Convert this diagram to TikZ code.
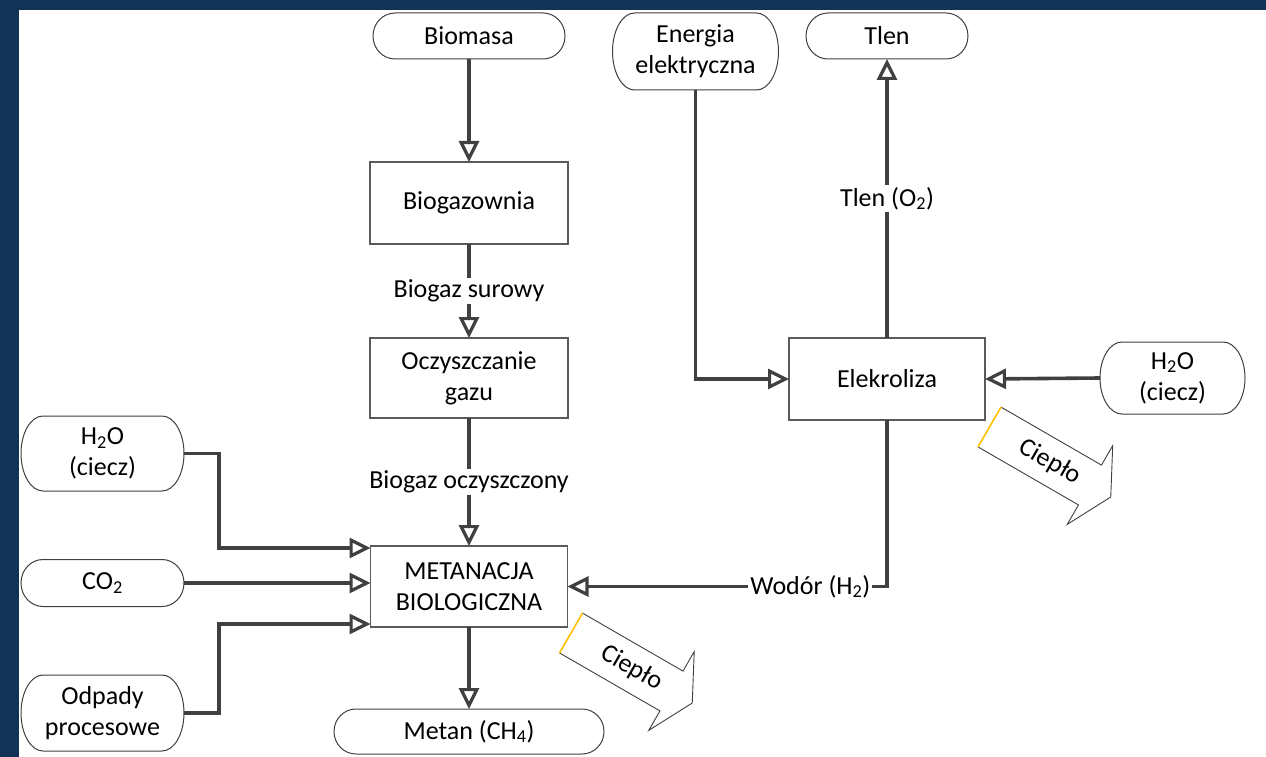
\documentclass[tikz,border=0pt]{standalone}
\usepackage{fontspec}
\setmainfont{Carlito}
\usetikzlibrary{arrows.meta,calc}

\definecolor{frameblue}{RGB}{18,50,86}
\definecolor{linegray}{RGB}{64,64,64}
\definecolor{boxgray}{RGB}{90,90,90}
\definecolor{heatedge}{RGB}{255,192,0}

% outline of a terminator (stadium with elliptical ends) around a named node
\newcommand\termoutline[1]{%
  \draw[termline] let \p1=(#1.north west), \p2=(#1.south east), \n1={(\y1-\y2)/2} in
    ([xshift=22pt]#1.north west) -- ([xshift=-22pt]#1.north east)
    arc[start angle=90, end angle=-90, x radius=22pt, y radius=\n1]
    -- ([xshift=22pt]#1.south west)
    arc[start angle=270, end angle=90, x radius=22pt, y radius=\n1] -- cycle;}

% block arrow for released heat, drawn along its own axis
\newcommand\heatarrow[3]{%
  \begin{scope}[shift={#1}, rotate=-30]
    \draw[heatline] (0,-23) -- (116,-23) -- (116,-45.5) -- (140,0) -- (116,45.5) -- (116,23) -- (0,23);
    \draw[heattail] (0,-23) -- (0,23);
    \node[rotate=-30] (#2) at (70,0) {#3};
  \end{scope}}

\tikzset{
  every node/.style={font=\fontsize{26}{31}\selectfont, text=black},
  procbox/.style={draw=boxgray, line width=1.2pt, fill=white, align=center, inner sep=0pt, outer sep=0pt},
  termnode/.style={align=center, inner sep=0pt, outer sep=0pt},
  termline/.style={draw=linegray, line width=1pt},
  conn/.style={draw=linegray, line width=3.6pt,
    -{Triangle[open, length=21pt, width=20pt, line width=3.2pt]}},
  lbl/.style={fill=white, inner sep=2pt},
  heatline/.style={draw=linegray, line width=0.9pt, fill=white, line join=miter},
  heattail/.style={draw=heatedge, line width=1.6pt},
}

\begin{document}
\begin{tikzpicture}[x=1pt, y=-1pt]
  % page frame
  \fill[frameblue] (0,0) rectangle (1266,757);
  \fill[white] (19,10) rectangle (1266,757);
  \useasboundingbox (0,0) rectangle (1266,757);

  % terminators
  \node[termnode, minimum width=192pt, minimum height=46pt] (biomasa) at (469,36) {Biomasa};
  \node[termnode, minimum width=166pt, minimum height=77pt] (energia) at (695.5,51.5) {Energia\\elektryczna};
  \node[termnode, minimum width=162pt, minimum height=46pt] (tlen) at (887,36) {Tlen};
  \node[termnode, minimum width=145pt, minimum height=72pt] (wodaR) at (1172.5,378) {H\textsubscript{2}O\\(ciecz)};
  \node[termnode, minimum width=163pt, minimum height=75pt] (wodaL) at (102.5,453.5) {H\textsubscript{2}O\\(ciecz)};
  \node[termnode, minimum width=163pt, minimum height=47pt] (co2) at (102.5,583) {CO\textsubscript{2}};
  \node[termnode, minimum width=163pt, minimum height=76pt] (odpady) at (102.5,713) {Odpady\\procesowe};
  \node[termnode, minimum width=270pt, minimum height=45pt] (metan) at (469,731.5) {Metan (CH\textsubscript{4})};
  \foreach \t in {biomasa,energia,tlen,wodaR,wodaL,co2,odpady,metan} {\termoutline{\t}}

  % process boxes
  \node[procbox, minimum width=198pt, minimum height=82pt] (biogazownia) at (469,203) {Biogazownia};
  \node[procbox, minimum width=198pt, minimum height=80pt] (oczysz) at (469,378) {Oczyszczanie\\gazu};
  \node[procbox, minimum width=197pt, minimum height=81pt] (metanacja) at (469,586.5) {METANACJA\\BIOLOGICZNA};
  \node[procbox, minimum width=196pt, minimum height=82pt] (elektro) at (887,379) {Elekroliza};

  % main chain
  \draw[conn] (biomasa) -- (biogazownia);
  \draw[conn] (biogazownia) -- node[lbl] {Biogaz surowy} (oczysz);
  \draw[conn] (oczysz) -- node[lbl] {Biogaz oczyszczony} (metanacja);
  \draw[conn] (metanacja) -- (metan);

  % inputs to the methanation
  \draw[conn] (wodaL.east) -- ++(35,0) |- ([yshift=-2pt]metanacja.north west);
  \draw[conn] (co2.east) -- (co2.east -| metanacja.west);
  \draw[conn] (odpady.east) -- ++(35,0) |- ([yshift=3pt]metanacja.south west);

  % electrolysis
  \draw[conn] (energia.south) |- (elektro.west);
  \draw[conn] (elektro) -- node[lbl] {Tlen (O\textsubscript{2})} (tlen);
  \draw[conn] (wodaR.west) -- (elektro.east);
  \draw[conn] (elektro.south) |- node[lbl, pos=0.62] {Wodór (H\textsubscript{2})} (metanacja.east);

  % released heat
  \heatarrow{(571,633)}{heatA}{Ciepło}
  \heatarrow{(989.5,427)}{heatB}{Ciepło}
\end{tikzpicture}
\end{document}
